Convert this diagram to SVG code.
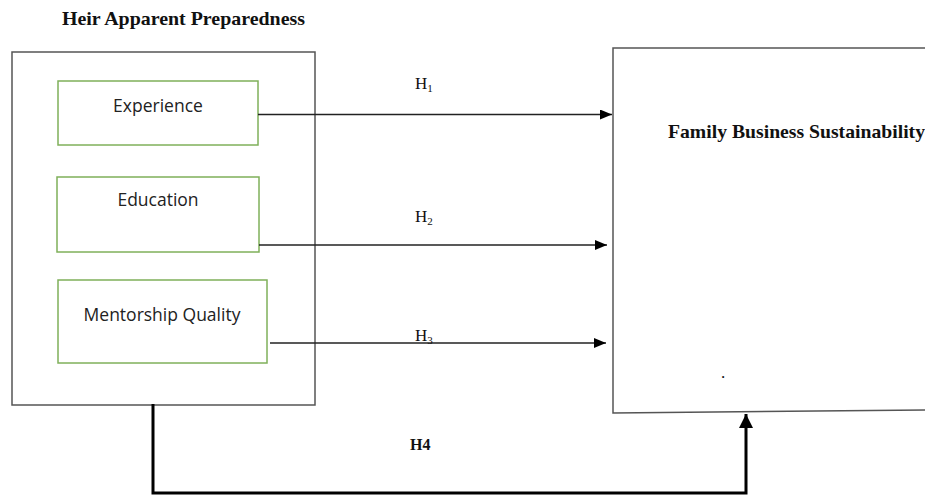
<svg xmlns="http://www.w3.org/2000/svg" width="925" height="495" viewBox="0 0 925 495">
<defs>
<marker id="ah" viewBox="0 0 12 10" refX="12" refY="5" markerWidth="12" markerHeight="10" markerUnits="userSpaceOnUse" orient="auto">
<path d="M0,0 L12,5 L0,10 Z" fill="#000"/>
</marker>
<marker id="ahb" viewBox="0 0 12 12" refX="12" refY="6" markerWidth="14" markerHeight="14" markerUnits="userSpaceOnUse" orient="auto">
<path d="M0,0 L12,6 L0,12 Z" fill="#000"/>
</marker>
</defs>
<style>
.outer{fill:#fff;stroke:#555;stroke-width:1.5}
.var{fill:#fff;stroke:#7fb05a;stroke-width:1.5}
.lbl{font-family:"Open Sans","Liberation Sans",sans-serif;font-size:17.5px;fill:#222;text-anchor:middle}
.title{font-family:"Liberation Serif",serif;font-weight:bold;font-size:19px;fill:#111}
.h{font-family:"Liberation Serif",serif;font-size:17px;fill:#111}
.h4{font-family:"Liberation Serif",serif;font-weight:bold;font-size:16px;fill:#111}
.conn{stroke:#222;stroke-width:1.3;fill:none}
.thick{stroke:#000;stroke-width:3;fill:none}
</style>
<rect width="925" height="495" fill="#fff"/>
<text class="title" x="62" y="25" textLength="243" lengthAdjust="spacingAndGlyphs">Heir Apparent Preparedness</text>
<g id="heir-apparent-preparedness">
<rect class="outer" x="12" y="52" width="303" height="353"/>
</g>
<g id="experience">
<rect class="var" x="58" y="81" width="200" height="64"/>
<text class="lbl" x="158" y="112">Experience</text>
</g>
<g id="education">
<rect class="var" x="57" y="177" width="202" height="75"/>
<text class="lbl" x="158" y="206">Education</text>
</g>
<g id="mentorship-quality">
<rect class="var" x="58" y="280" width="209" height="83"/>
<text class="lbl" x="162" y="321">Mentorship Quality</text>
</g>
<g id="family-business-sustainability">
<path class="outer" d="M613,48 L930,48 L930,410 L613,413 Z"/>
<text class="title" x="668" y="138" textLength="257" lengthAdjust="spacingAndGlyphs">Family Business Sustainability</text>
<text class="h" x="721" y="378" font-size="14">.</text>
</g>
<g id="connectors">
<line class="conn" x1="258" y1="114.5" x2="612" y2="114.5" marker-end="url(#ah)"/>
<line class="conn" x1="259" y1="245" x2="607" y2="245" marker-end="url(#ah)"/>
<line class="conn" x1="270" y1="343" x2="606" y2="343" marker-end="url(#ah)"/>
<polyline class="thick" points="153,404 153,493 746,493 746,414" marker-end="url(#ahb)"/>
<text class="h" x="415" y="89">H<tspan font-size="11" dy="3">1</tspan></text>
<text class="h" x="415" y="222">H<tspan font-size="11" dy="3">2</tspan></text>
<text class="h" x="415" y="341">H<tspan font-size="11" dy="3">3</tspan></text>
<text class="h4" x="410" y="450">H4</text>
</g>
</svg>
